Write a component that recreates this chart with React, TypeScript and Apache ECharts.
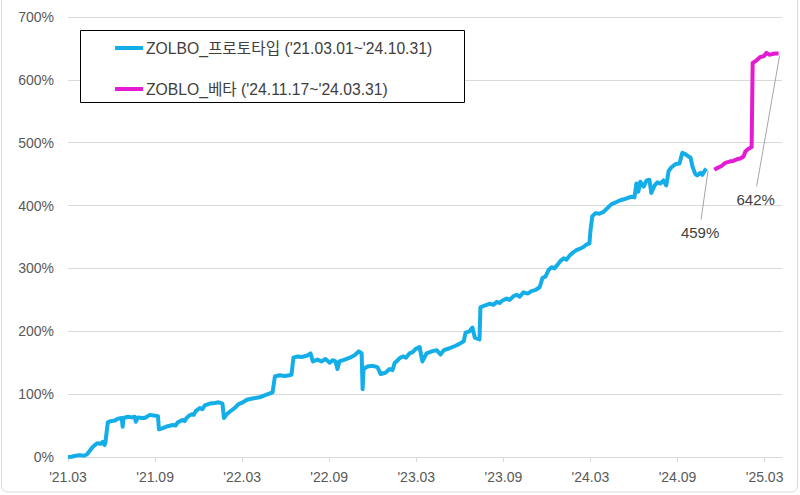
import React, { useEffect, useRef } from "react";
import * as echarts from "echarts";

const protoName = "ZOLBO_프로토타입 ('21.03.01~'24.10.31)";
const betaName = "ZOBLO_베타 ('24.11.17~'24.03.31)";

const protoDates = [
  "2021-03-01", "2021-03-09", "2021-03-17", "2021-03-26", "2021-04-04", "2021-04-10", "2021-04-16", "2021-04-22",
  "2021-05-01", "2021-05-09", "2021-05-13", "2021-05-17", "2021-05-19", "2021-05-24", "2021-05-30", "2021-06-08",
  "2021-06-14", "2021-06-22", "2021-06-24", "2021-06-26", "2021-07-05", "2021-07-13", "2021-07-19", "2021-07-22",
  "2021-07-26", "2021-08-04", "2021-08-10", "2021-08-21", "2021-08-29", "2021-09-07", "2021-09-09", "2021-09-17",
  "2021-09-27", "2021-10-08", "2021-10-14", "2021-10-18", "2021-10-29", "2021-11-02", "2021-11-06", "2021-11-12",
  "2021-11-17", "2021-11-21", "2021-11-25", "2021-12-04", "2021-12-09", "2021-12-14", "2021-12-25", "2022-01-05",
  "2022-01-13", "2022-01-21", "2022-01-24", "2022-01-30", "2022-02-05", "2022-02-15", "2022-02-22", "2022-02-28",
  "2022-03-11", "2022-03-23", "2022-04-07", "2022-04-20", "2022-05-04", "2022-05-09", "2022-05-19", "2022-05-30",
  "2022-06-09", "2022-06-13", "2022-06-17", "2022-06-26", "2022-07-04", "2022-07-15", "2022-07-23", "2022-07-28",
  "2022-08-07", "2022-08-16", "2022-08-24", "2022-09-02", "2022-09-08", "2022-09-14", "2022-09-18", "2022-09-22",
  "2022-10-03", "2022-10-14", "2022-10-24", "2022-11-02", "2022-11-08", "2022-11-10", "2022-11-12", "2022-11-20",
  "2022-12-01", "2022-12-11", "2022-12-18", "2022-12-28", "2023-01-06", "2023-01-12", "2023-01-17", "2023-01-22",
  "2023-01-27", "2023-02-03", "2023-02-09", "2023-02-16", "2023-02-22", "2023-02-28", "2023-03-08", "2023-03-14",
  "2023-03-23", "2023-04-03", "2023-04-13", "2023-04-21", "2023-04-28", "2023-05-10", "2023-05-23", "2023-05-31",
  "2023-06-09", "2023-06-13", "2023-06-21", "2023-06-27", "2023-07-02", "2023-07-12", "2023-07-14", "2023-07-23",
  "2023-08-03", "2023-08-11", "2023-08-18", "2023-08-24", "2023-08-30", "2023-09-08", "2023-09-14", "2023-09-22",
  "2023-09-29", "2023-10-05", "2023-10-13", "2023-10-22", "2023-10-30", "2023-11-08", "2023-11-16", "2023-11-22",
  "2023-11-28", "2023-12-05", "2023-12-11", "2023-12-17", "2023-12-24", "2023-12-30", "2024-01-06", "2024-01-12",
  "2024-01-18", "2024-01-27", "2024-02-02", "2024-02-08", "2024-02-16", "2024-02-22", "2024-02-28", "2024-03-01",
  "2024-03-05", "2024-03-12", "2024-03-20", "2024-03-29", "2024-04-06", "2024-04-14", "2024-04-23", "2024-05-01",
  "2024-05-10", "2024-05-18", "2024-05-27", "2024-06-02", "2024-06-06", "2024-06-10", "2024-06-14", "2024-06-21",
  "2024-06-27", "2024-07-03", "2024-07-07", "2024-07-14", "2024-07-20", "2024-07-26", "2024-08-02", "2024-08-08",
  "2024-08-13", "2024-08-19", "2024-08-28", "2024-09-05", "2024-09-11", "2024-09-17", "2024-09-24", "2024-09-28",
  "2024-10-02", "2024-10-08", "2024-10-12", "2024-10-19", "2024-10-23", "2024-10-31",
];

const protoValues = [
  0, 0.5, 2, 3, 2, 4, 10, 16,
  22, 21, 24, 19, 24, 55, 57, 58,
  61, 62, 48, 62, 64, 63, 64, 56,
  63, 62, 62, 67, 66, 65, 44, 46,
  49, 51, 50, 55, 59, 57, 62, 66,
  68, 67, 73, 78, 76, 82, 85, 86,
  87, 85, 62, 68, 72, 78, 84, 86,
  91, 93, 95, 99, 103, 128, 130, 129,
  130, 131, 158, 160, 159, 161, 165, 152,
  155, 152, 156, 150, 154, 152, 140, 152,
  155, 158, 162, 168, 165, 108, 140, 144,
  145, 143, 132, 134, 140, 138, 150, 153,
  157, 160, 158, 165, 167, 172, 175, 152,
  165, 168, 170, 163, 170, 173, 177, 180,
  184, 198, 200, 206, 190, 187, 238, 241,
  244, 242, 247, 245, 249, 252, 250, 256,
  258, 255, 262, 260, 264, 266, 270, 285,
  287, 298, 302, 300, 306, 312, 316, 314,
  320, 326, 329, 331, 334, 338, 340, 360,
  383, 388, 387, 390, 396, 402, 405, 408,
  410, 412, 414, 413, 435, 422, 438, 430,
  440, 441, 420, 432, 437, 435, 440, 432,
  455, 461, 466, 467, 484, 482, 478, 476,
  462, 450, 448, 452, 449, 459,
];

const betaDates = [
  "2024-11-17", "2024-11-24", "2024-12-02", "2024-12-10", "2024-12-19", "2024-12-27", "2025-01-05",
  "2025-01-11", "2025-01-18", "2025-01-22", "2025-01-28", "2025-02-04", "2025-02-06", "2025-02-12",
  "2025-02-20", "2025-02-28", "2025-03-05", "2025-03-11", "2025-03-17", "2025-03-24", "2025-03-31",
];

const betaValues = [
  457, 460, 463, 468, 470, 471, 474,
  475, 478, 486, 490, 493, 627, 630,
  636, 638, 643, 640, 641, 642, 642,
];

const BLUE = "#13AEE8";
const MAGENTA = "#E41BD2";
const AXIS_TEXT = "#595959";
const GRID_LINE = "#D9D9D9";

function monthIndex(d: string): number {
  const [y, m, dd] = d.split("-").map(Number);
  const dim = new Date(y, m, 0).getDate();
  return (y - 2021) * 12 + (m - 3) + (dd - 1) / dim;
}

function monthLabel(v: number): string {
  const r = Math.round(v);
  if (Math.abs(v - r) > 1e-6 || r % 6 !== 0) return "";
  const yy = 21 + Math.floor((r + 2) / 12);
  const mm = ((r + 2) % 12) + 1;
  return `'${yy}.${String(mm).padStart(2, "0")}`;
}

export default function App() {
  const ref = useRef<HTMLDivElement>(null);

  useEffect(() => {
    document.body.style.margin = "0";
    if (!ref.current) return;
    const chart = echarts.init(ref.current, null, { renderer: "svg" });

    const protoData = protoDates.map((d, i) => [monthIndex(d), protoValues[i]]);
    const betaData = betaDates.map((d, i) => [monthIndex(d), betaValues[i]]);

    chart.setOption({
      animation: false,
      backgroundColor: "#ffffff",
      grid: { left: 68, right: 18, top: 17, bottom: 38, outerBoundsMode: "none" },
      xAxis: {
        type: "value",
        min: 0,
        max: 49.2,
        interval: 6,
        axisLine: { show: true, lineStyle: { color: GRID_LINE, width: 1 } },
        axisTick: { show: true, length: 5, lineStyle: { color: GRID_LINE } },
        splitLine: { show: false },
        axisLabel: {
          color: AXIS_TEXT,
          fontSize: 14,
          fontFamily: "'Liberation Sans', Arial, sans-serif",
          margin: 13,
          showMaxLabel: false,
          formatter: (v: number) => monthLabel(v),
        },
      },
      yAxis: {
        type: "value",
        min: 0,
        max: 700,
        interval: 100,
        axisLine: { show: false },
        axisTick: { show: false },
        splitLine: { show: true, lineStyle: { color: GRID_LINE, width: 1 } },
        axisLabel: {
          color: AXIS_TEXT,
          fontSize: 14,
          fontFamily: "'Liberation Sans', Arial, sans-serif",
          margin: 14,
          formatter: (v: number) => `${v}%`,
        },
      },
      series: [
        {
          name: protoName,
          type: "line",
          data: protoData,
          showSymbol: false,
          symbol: "none",
          lineStyle: { color: BLUE, width: 4, join: "round" },
          itemStyle: { color: BLUE },
          z: 3,
        },
        {
          name: betaName,
          type: "line",
          data: betaData,
          showSymbol: false,
          symbol: "none",
          lineStyle: { color: MAGENTA, width: 4, join: "round" },
          itemStyle: { color: MAGENTA },
          z: 4,
        },
      ],
    });

    const lastP = protoData[protoData.length - 1];
    const lastB = betaData[betaData.length - 1];
    const pP = chart.convertToPixel({ gridIndex: 0 }, lastP) as number[];
    const pB = chart.convertToPixel({ gridIndex: 0 }, lastB) as number[];

    const font = "15px 'Liberation Sans', 'Noto Sans CJK KR', sans-serif";
    const legendFont = "15.7px 'Liberation Sans', 'Noto Sans CJK KR', sans-serif";

    chart.setOption({
      graphic: {
        elements: [
          {
            type: "rect",
            z: 0,
            silent: true,
            shape: { x: 1.5, y: -20, width: 796, height: 512, r: 6 },
            style: { fill: "none", stroke: GRID_LINE, lineWidth: 1 },
          },
          {
            type: "rect",
            z: 100,
            shape: { x: 80.5, y: 30.5, width: 384, height: 72 },
            style: { fill: "#ffffff", stroke: "#000000", lineWidth: 1 },
          },
          {
            type: "line",
            z: 101,
            shape: { x1: 115, y1: 48, x2: 143, y2: 48 },
            style: { stroke: BLUE, lineWidth: 4 },
          },
          {
            type: "text",
            z: 101,
            x: 146,
            y: 48,
            style: {
              text: protoName,
              font: legendFont,
              fill: "#404040",
              textAlign: "left",
              textVerticalAlign: "middle",
              align: "left",
              verticalAlign: "middle",
            },
          },
          {
            type: "line",
            z: 101,
            shape: { x1: 115, y1: 89, x2: 143, y2: 89 },
            style: { stroke: MAGENTA, lineWidth: 4 },
          },
          {
            type: "text",
            z: 101,
            x: 146,
            y: 89,
            style: {
              text: betaName,
              font: legendFont,
              fill: "#404040",
              textAlign: "left",
              textVerticalAlign: "middle",
              align: "left",
              verticalAlign: "middle",
            },
          },
          {
            type: "line",
            z: 50,
            shape: { x1: pP[0] + 2, y1: pP[1] + 2, x2: pP[0] - 5, y2: pP[1] + 51 },
            style: { stroke: "#A6A6A6", lineWidth: 1 },
          },
          {
            type: "text",
            z: 50,
            x: pP[0] - 6,
            y: pP[1] + 64,
            style: {
              text: `${lastP[1]}%`,
              font,
              fill: "#404040",
              textAlign: "center",
              textVerticalAlign: "middle",
              align: "center",
              verticalAlign: "middle",
            },
          },
          {
            type: "line",
            z: 50,
            shape: { x1: pB[0] + 1, y1: pB[1] + 2, x2: pB[0] - 22, y2: pB[1] + 133 },
            style: { stroke: "#A6A6A6", lineWidth: 1 },
          },
          {
            type: "text",
            z: 50,
            x: pB[0] - 23,
            y: pB[1] + 146,
            style: {
              text: `${lastB[1]}%`,
              font,
              fill: "#404040",
              textAlign: "center",
              textVerticalAlign: "middle",
              align: "center",
              verticalAlign: "middle",
            },
          },
        ],
      },
    });

    return () => chart.dispose();
  }, []);

  return <div ref={ref} style={{ width: 800, height: 495 }} />;
}
